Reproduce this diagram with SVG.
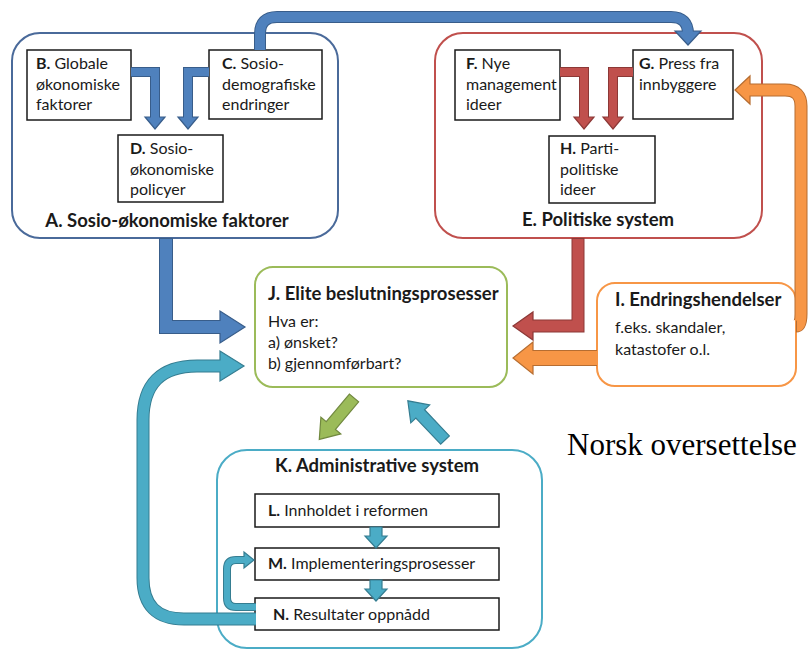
<svg xmlns="http://www.w3.org/2000/svg" width="808" height="652" viewBox="0 0 808 652">
<style>
text{font-family:Lato,"Open Sans","Liberation Sans",sans-serif;fill:#1a1a1a}
.t{font-size:16px}
.b{font-weight:bold}
.hd{font-size:18.5px;font-weight:bold}
.ttl{font-size:18.5px;font-weight:bold}
.box{fill:#fff;stroke:#1a1a1a;stroke-width:1.5}
.cont{fill:#fff;stroke-width:2}
.bandO{fill:none;stroke-linejoin:miter}
.bandI{fill:none;stroke-linejoin:miter}
.blueO{stroke:#385d8a}.blueI{stroke:#4f81bd}.blueH{fill:#4f81bd;stroke:#385d8a;stroke-width:1.2}
.redO{stroke:#8c3836}.redI{stroke:#c0504d}.redH{fill:#c0504d;stroke:#8c3836;stroke-width:1.2}
.orO{stroke:#b66d31}.orI{stroke:#f79646}.orH{fill:#f79646;stroke:#b66d31;stroke-width:1.2}
.tlO{stroke:#357d91}.tlI{stroke:#4bacc6}.tlH{fill:#4bacc6;stroke:#357d91;stroke-width:1.2}
.grH{fill:#9bbb59;stroke:#71893f;stroke-width:1.2}
</style>
<rect width="808" height="652" fill="#fff"/>

<g id="A">
<rect class="cont" x="12" y="33" width="326" height="205" rx="28" stroke="#4a6a9a"/>
<text class="hd" x="167" y="227" text-anchor="middle">A. Sosio-økonomiske faktorer</text>
</g>
<g id="E">
<rect class="cont" x="435" y="33" width="327" height="205" rx="28" stroke="#c0504d"/>
<text class="hd" x="598" y="226" text-anchor="middle">E. Politiske system</text>
</g>
<g id="J">
<rect class="cont" x="255" y="267" width="252" height="120" rx="18" stroke="#9bbb59"/>
<text class="ttl" x="268" y="300">J. Elite beslutningsprosesser</text>
<text class="t" x="268" y="327">Hva er:</text>
<text class="t" x="268" y="348">a) ønsket?</text>
<text class="t" x="268" y="369">b) gjennomførbart?</text>
</g>
<g id="I">
<rect class="cont" x="597" y="283" width="199" height="103" rx="18" stroke="#f79646"/>
<text class="ttl" x="615" y="306">I. Endringshendelser</text>
<text class="t" x="615" y="333">f.eks. skandaler,</text>
<text class="t" x="615" y="355">katastofer o.l.</text>
</g>
<g id="K">
<rect class="cont" x="217" y="450" width="325" height="198" rx="30" stroke="#4bacc6"/>
<text class="ttl" x="377" y="472" text-anchor="middle">K. Administrative system</text>
</g>

<g id="B">
<rect class="box" x="27" y="50" width="104" height="70"/>
<text class="t" x="36" y="69"><tspan class="b">B.</tspan> Globale</text>
<text class="t" x="36" y="90">økonomiske</text>
<text class="t" x="36" y="110">faktorer</text>
</g>
<g id="C">
<rect class="box" x="209" y="50" width="113" height="69"/>
<text class="t" x="222" y="69"><tspan class="b">C.</tspan> Sosio-</text>
<text class="t" x="222" y="90">demografiske</text>
<text class="t" x="222" y="110">endringer</text>
</g>
<g id="D">
<rect class="box" x="118" y="135" width="105" height="67"/>
<text class="t" x="130" y="154"><tspan class="b">D.</tspan> Sosio-</text>
<text class="t" x="130" y="175">økonomiske</text>
<text class="t" x="130" y="195">policyer</text>
</g>
<g id="F">
<rect class="box" x="455" y="50" width="105" height="70"/>
<text class="t" x="466" y="69"><tspan class="b">F.</tspan> Nye</text>
<text class="t" x="466" y="90">management</text>
<text class="t" x="466" y="110">ideer</text>
</g>
<g id="G">
<rect class="box" x="633" y="50" width="100" height="69"/>
<text class="t" x="639" y="69"><tspan class="b">G.</tspan> Press fra</text>
<text class="t" x="639" y="90">innbyggere</text>
</g>
<g id="H">
<rect class="box" x="549" y="136" width="106" height="67"/>
<text class="t" x="560" y="154"><tspan class="b">H.</tspan> Parti-</text>
<text class="t" x="560" y="175">politiske</text>
<text class="t" x="560" y="195">ideer</text>
</g>
<g id="L">
<rect class="box" x="255" y="494" width="244" height="33"/>
<text class="t" x="268" y="516"><tspan class="b">L.</tspan> Innholdet i reformen</text>
</g>
<g id="M">
<rect class="box" x="255" y="548" width="244" height="32"/>
<text class="t" x="268" y="569"><tspan class="b">M.</tspan> Implementeringsprosesser</text>
</g>
<g id="N">
<rect class="box" x="255" y="598" width="244" height="32"/>
<text class="t" x="273" y="620"><tspan class="b">N.</tspan> Resultater oppnådd</text>
</g>

<g id="connectors">
<!-- B -> D -->
<path class="bandO blueO" stroke-width="10" d="M131 72 H155 V119"/>
<polygon class="blueH" points="145,117 165,117 155,129"/>
<path class="bandI blueI" stroke-width="8" d="M131 72 H155 V119"/>
<!-- C -> D -->
<path class="bandO blueO" stroke-width="10" d="M209 72 H188 V119"/>
<polygon class="blueH" points="178,117 198,117 188,129"/>
<path class="bandI blueI" stroke-width="8" d="M209 72 H188 V119"/>
<!-- F -> H -->
<path class="bandO redO" stroke-width="10" d="M560 72 H584 V119"/>
<polygon class="redH" points="574,117 594,117 584,129"/>
<path class="bandI redI" stroke-width="8" d="M560 72 H584 V119"/>
<!-- G -> H -->
<path class="bandO redO" stroke-width="10" d="M633 72 H613 V119"/>
<polygon class="redH" points="603,117 623,117 613,129"/>
<path class="bandI redI" stroke-width="8" d="M633 72 H613 V119"/>
<!-- C -> G (top) -->
<path class="bandO blueO" stroke-width="12" d="M260 50 V34 Q260 17 277 17 H671 Q688 17 688 34"/>
<polygon class="blueH" points="675,31 701,31 688,45"/>
<path class="bandI blueI" stroke-width="10" d="M260 50 V34 Q260 17 277 17 H671 Q688 17 688 34"/>
<!-- A -> J -->
<path class="bandO blueO" stroke-width="14" d="M166 238 V327 H222"/>
<polygon class="blueH" points="220,311 220,343 245,327"/>
<path class="bandI blueI" stroke-width="12" d="M166 239 V327 H222"/>
<!-- E -> J -->
<path class="bandO redO" stroke-width="13" d="M578 238 V326 H531"/>
<polygon class="redH" points="533,312 533,340 513,326"/>
<path class="bandI redI" stroke-width="11" d="M578 239 V326 H531"/>
<!-- I -> J -->
<path class="bandO orO" stroke-width="16" d="M597 358 H531"/>
<polygon class="orH" points="533,342 533,374 513,358"/>
<path class="bandI orI" stroke-width="14" d="M598 358 H531"/>
<!-- I -> G -->
<path class="bandO orO" stroke-width="13" d="M796 326 Q801 326 801 314 V106 Q801 90 785 90 H748"/>
<polygon class="orH" points="750,76 750,104 735,90"/>
<path class="bandI orI" stroke-width="11" d="M797 326 Q801 326 801 314 V106 Q801 90 785 90 H748"/>
<!-- N -> J (big loop) -->
<path class="bandO tlO" stroke-width="13" d="M256 619 H184 Q143 619 143 578 V420 Q143 366 197 366 H222"/>
<polygon class="tlH" points="220,351 220,381 244,366"/>
<path class="bandI tlI" stroke-width="11" d="M256 619 H184 Q143 619 143 578 V420 Q143 366 197 366 H222"/>
<!-- N -> M (small loop) -->
<path class="bandO tlO" stroke-width="8" d="M256 607 H236 Q227 607 227 598 V569 Q227 560 236 560 H246"/>
<polygon class="tlH" points="244,552 244,568 254,560"/>
<path class="bandI tlI" stroke-width="6" d="M256 607 H236 Q227 607 227 598 V569 Q227 560 236 560 H246"/>
<!-- L -> M -->
<polygon class="tlH" points="370,527 382,527 382,536 387,536 376,548 365,536 370,536"/>
<!-- M -> N -->
<polygon class="tlH" points="370,580 382,580 382,589 387,589 376,601 365,589 370,589"/>
<!-- J -> K (green) -->
<polygon class="grH" transform="translate(354,398) rotate(130)" points="0,-6 36,-6 36,-13 54,0 36,13 36,6 0,6"/>
<!-- K -> J (teal) -->
<polygon class="tlH" transform="translate(445,440) rotate(226.5)" points="0,-6 36,-6 36,-13 54,0 36,13 36,6 0,6"/>
</g>

<text x="567" y="455" style="font-family:'Liberation Serif','Times New Roman',serif;font-size:31px;fill:#000">Norsk oversettelse</text>
</svg>
